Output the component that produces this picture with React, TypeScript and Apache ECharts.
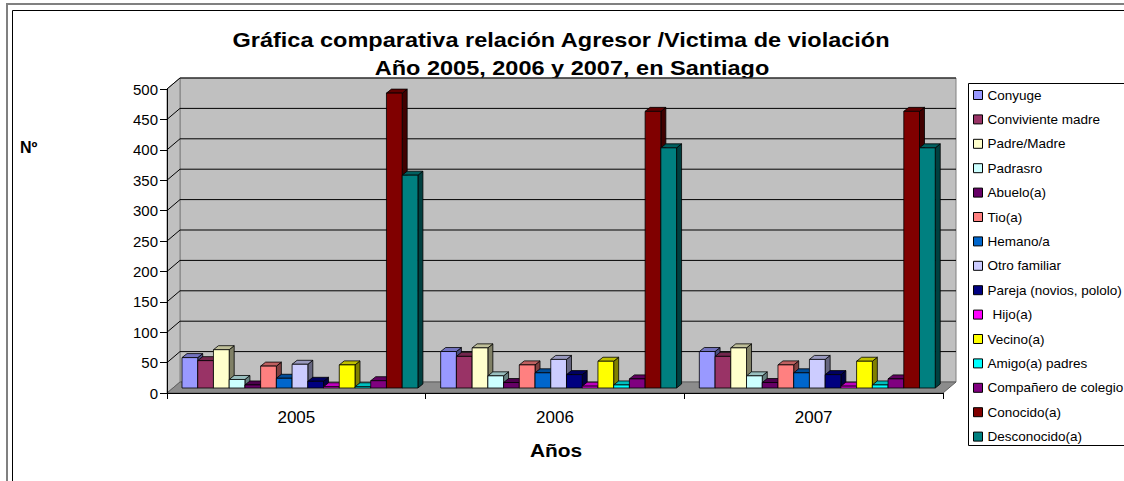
import React, { useEffect, useRef } from "react";
import * as echarts from "echarts";

const categories = ["2005", "2006", "2007"];
const yTicks = [0, 50, 100, 150, 200, 250, 300, 350, 400, 450, 500];

const seriesNames = [
  "Conyuge",
  "Conviviente madre",
  "Padre/Madre",
  "Padrasro",
  "Abuelo(a)",
  "Tio(a)",
  "Hemano/a",
  "Otro familiar",
  "Pareja (novios, pololo)",
  "Hijo(a)",
  "Vecino(a)",
  "Amigo(a) padres",
  "Compañero de colegio",
  "Conocido(a)",
  "Desconocido(a)",
];

const conyuge = [50, 60, 60];
const conviviente = [45, 52, 52];
const padreMadre = [63, 66, 66];
const padrasro = [14, 20, 20];
const abuelo = [5, 9, 9];
const tio = [36, 38, 38];
const hermano = [16, 25, 25];
const otroFamiliar = [39, 47, 47];
const pareja = [11, 22, 22];
const hijo = [2, 3, 3];
const vecino = [38, 44, 44];
const amigoPadres = [2, 5, 5];
const companero = [12, 15, 15];
const conocido = [485, 455, 455];
const desconocido = [350, 395, 395];

const seriesValues = [
  conyuge, conviviente, padreMadre, padrasro, abuelo, tio, hermano,
  otroFamiliar, pareja, hijo, vecino, amigoPadres, companero, conocido, desconocido,
];

const colors = [
  "#9999FF", "#993366", "#FFFFCC", "#CCFFFF", "#660066", "#FF8080", "#0066CC",
  "#CCCCFF", "#000080", "#FF00FF", "#FFFF00", "#00FFFF", "#800080", "#800000", "#008080",
];

const FONT = "Liberation Sans, Arial, sans-serif";

function shade(hex: string, f: number) {
  const n = parseInt(hex.slice(1), 16);
  const r = Math.round(((n >> 16) & 255) * f);
  const g = Math.round(((n >> 8) & 255) * f);
  const b = Math.round((n & 255) * f);
  return `rgb(${r},${g},${b})`;
}

const WDX = 13; // wall depth
const WDY = -11;

export default function App() {
  const ref = useRef<HTMLDivElement>(null);
  useEffect(() => {
    if (!ref.current) return;
    const chart = echarts.init(ref.current, null, { renderer: "svg" });

    const frameSeries: any = {
      type: "custom",
      name: "frame",
      silent: true,
      z: 1,
      data: [[0, 0]],
      renderItem: (params: any, api: any) => {
        const band = api.size([1, 0])[0];
        const p0 = api.coord([0, 0]);
        const left = p0[0] - band / 2;
        const right = left + band * categories.length;
        const y0 = p0[1];
        const yTop = api.coord([0, yTicks[yTicks.length - 1]])[1];
        const children: any[] = [];
        children.push({
          type: "rect",
          shape: { x: left + WDX, y: yTop + WDY, width: right - left, height: y0 - yTop },
          style: { fill: "#c0c0c0", stroke: "#808080", lineWidth: 1 },
        });
        children.push({
          type: "polygon",
          shape: {
            points: [
              [left, yTop], [left + WDX, yTop + WDY], [left + WDX, y0 + WDY], [left, y0],
            ],
          },
          style: { fill: "#c0c0c0", stroke: "#808080", lineWidth: 1 },
        });
        yTicks.forEach((t) => {
          if (t === 0) return;
          const y = api.coord([0, t])[1];
          children.push({
            type: "line",
            shape: { x1: left + WDX, y1: y + WDY, x2: right + WDX, y2: y + WDY },
            style: { stroke: "#000", lineWidth: 1 },
          });
          children.push({
            type: "line",
            shape: { x1: left, y1: y, x2: left + WDX, y2: y + WDY },
            style: { stroke: "#000", lineWidth: 1 },
          });
        });
        children.push({
          type: "polygon",
          shape: {
            points: [
              [left, y0], [right, y0], [right + WDX, y0 + WDY], [left + WDX, y0 + WDY],
            ],
          },
          style: { fill: "#8c8c8c", stroke: "#606060", lineWidth: 1 },
        });
        return { type: "group", children };
      },
    };

    const barSeries = seriesNames.map((name, i) => ({
      type: "custom",
      name,
      z: 2,
      itemStyle: { color: colors[i] },
      encode: { x: 0, y: 1 },
      data: seriesValues[i].map((v, ci) => [ci, v]),
      renderItem: (params: any, api: any) => {
        const ci = api.value(0);
        const v = api.value(1);
        const band = api.size([1, 0])[0];
        const base = api.coord([ci, 0]);
        const topP = api.coord([ci, v]);
        const bw = band * 0.0608;
        const x = base[0] - band / 2 + band * 0.058 + i * bw;
        const yb = base[1] - 5;
        const yt = topP[1] - 5;
        const dx = 5;
        const dy = -4;
        const c = colors[i];
        return {
          type: "group",
          children: [
            {
              type: "polygon",
              shape: { points: [[x + bw, yt], [x + bw + dx, yt + dy], [x + bw + dx, yb + dy], [x + bw, yb]] },
              style: { fill: shade(c, 0.5), stroke: "#000", lineWidth: 0.8 },
            },
            {
              type: "polygon",
              shape: { points: [[x, yt], [x + bw, yt], [x + bw + dx, yt + dy], [x + dx, yt + dy]] },
              style: { fill: shade(c, 0.75), stroke: "#000", lineWidth: 0.8 },
            },
            {
              type: "rect",
              shape: { x, y: yt, width: bw, height: yb - yt },
              style: { fill: c, stroke: "#000", lineWidth: 0.8 },
            },
          ],
        };
      },
    }));

    const legendData = seriesNames.map((name) =>
      name === "Hijo(a)"
        ? { name, textStyle: { padding: [7, 0, 0, 5] } }
        : { name }
    );

    chart.setOption({
      animation: false,
      backgroundColor: "#fff",
      textStyle: { fontFamily: FONT },
      grid: { left: 167, top: 89, width: 776, height: 304, containLabel: false },
      xAxis: {
        type: "category",
        data: categories,
        boundaryGap: true,
        axisLine: { show: true, lineStyle: { color: "#000", width: 1 } },
        axisTick: { show: true, length: 6, lineStyle: { color: "#000" } },
        axisLabel: { fontSize: 17, color: "#000", margin: 16, fontFamily: FONT },
        splitLine: { show: false },
        z: 5,
      },
      yAxis: {
        type: "value",
        min: 0,
        max: 500,
        interval: 50,
        axisLine: { show: true, lineStyle: { color: "#000", width: 1 } },
        axisTick: { show: true, length: 7, lineStyle: { color: "#000" } },
        axisLabel: { fontSize: 15, color: "#000", margin: 9, fontFamily: FONT },
        splitLine: { show: false },
        z: 5,
      },
      legend: {
        orient: "vertical",
        left: 973,
        top: 88,
        padding: 0,
        itemWidth: 9,
        itemHeight: 9,
        itemGap: 10.4,
        icon: "rect",
        itemStyle: { borderColor: "#000", borderWidth: 1 },
        textStyle: { fontSize: 13.5, color: "#000", fontFamily: FONT },
        data: legendData,
        selectedMode: false,
        z: 10,
      },
      graphic: [
        {
          type: "rect",
          z: -10,
          silent: true,
          shape: { x: 7, y: 4, width: 2000, height: 2000 },
          style: { fill: "none", stroke: "#808080", lineWidth: 2 },
        },
        {
          type: "rect",
          z: -10,
          silent: true,
          shape: { x: 12.5, y: 10.5, width: 2000, height: 2000 },
          style: { fill: "none", stroke: "#000", lineWidth: 1 },
        },
        {
          type: "rect",
          z: 0,
          silent: true,
          shape: { x: 968.5, y: 83.5, width: 300, height: 362 },
          style: { fill: "#fff", stroke: "#000", lineWidth: 1 },
        },
        {
          type: "text",
          x: 561,
          y: 40,
          scaleX: 1.12,
          style: {
            text: "Gráfica comparativa relación Agresor /Victima de violación",
            font: `bold 21px ${FONT}`,
            fill: "#000",
            textAlign: "center",
            textVerticalAlign: "middle",
          },
        },
        {
          type: "text",
          x: 572,
          y: 68,
          scaleX: 1.12,
          style: {
            text: "Año 2005, 2006 y 2007, en Santiago",
            font: `bold 21px ${FONT}`,
            fill: "#000",
            textAlign: "center",
            textVerticalAlign: "middle",
          },
        },
        {
          type: "text",
          x: 20,
          y: 147,
          style: {
            text: "Nº",
            font: `bold 16px ${FONT}`,
            fill: "#000",
            textAlign: "left",
            textVerticalAlign: "middle",
          },
        },
        {
          type: "text",
          x: 556,
          y: 450,
          scaleX: 1.1,
          style: {
            text: "Años",
            font: `bold 19px ${FONT}`,
            fill: "#000",
            textAlign: "center",
            textVerticalAlign: "middle",
          },
        },
      ],
      series: [frameSeries, ...barSeries],
    });
    return () => chart.dispose();
  }, []);
  return (
    <div
      ref={ref}
      style={{ position: "absolute", left: 0, top: 0, width: 1124, height: 481 }}
    />
  );
}
